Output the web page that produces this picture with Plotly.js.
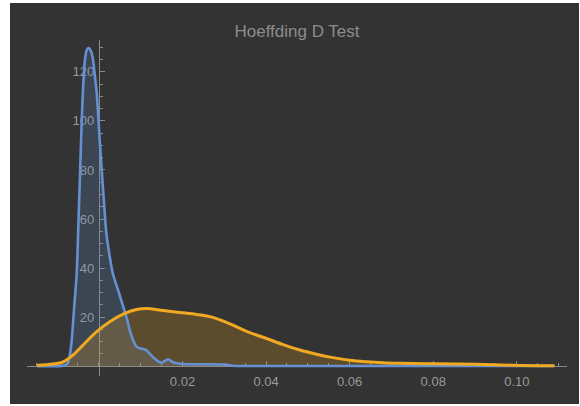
<!DOCTYPE html>
<html>
<head>
<meta charset="utf-8">
<script src="https://cdn.plot.ly/plotly-3.0.1.min.js"></script>
<style>
  html, body { margin: 0; padding: 0; background: #ffffff; }
  #chart { position: absolute; left: 10px; top: 3px; width: 569px; height: 401px; }
</style>
</head>
<body>
<div id="chart"></div>
<script>
// ---- data ----
const blueX = [-0.0148, -0.0110, -0.0090, -0.0080, -0.0075, -0.0070, -0.0065, -0.0060, -0.0053,
  -0.0049, -0.0045, -0.0040, -0.0034, -0.0029, -0.0024, -0.0019, -0.0014, -0.0010, -0.0005,
  0.0002, 0.0010, 0.0018, 0.0026, 0.0033, 0.0040, 0.0046, 0.0056, 0.0066, 0.0075, 0.0082,
  0.0090, 0.0098, 0.0106, 0.0114, 0.0121, 0.0129, 0.0140, 0.0150, 0.0158, 0.0166, 0.0175,
  0.0186, 0.0210, 0.0250, 0.0300, 0.0320, 0.0400, 0.0600, 0.0800, 0.1000, 0.1090];
const blueY = [0, 0, 0.1, 0.4, 1.2, 4, 10.6, 22, 38,
  58, 79, 105, 124, 129, 129.7, 128.5, 125, 119, 111,
  92, 72, 54, 44.6, 38, 34, 31, 25.5, 20, 14, 10.6,
  8, 7.3, 7.0, 6.5, 5.2, 3.8, 2.2, 1.4, 2.2, 2.8, 1.8,
  1.2, 0.8, 0.8, 0.7, 0.2, 0.1, 0.1, 0.1, 0.1, 0.1];

const orangeX = [-0.0148, -0.0110, -0.0085, -0.0062, -0.0038, -0.0006, 0.0026, 0.0058, 0.0090,
  0.0114, 0.0154, 0.0194, 0.0234, 0.0266, 0.0290, 0.0321, 0.0361, 0.0401, 0.0441, 0.0481,
  0.0521, 0.0560, 0.0600, 0.0640, 0.0680, 0.0720, 0.0800, 0.0900, 0.0990, 0.1090];
const orangeY = [0.4, 0.9, 1.8, 4.5, 8.6, 14, 18.1, 21.2, 23.1,
  23.5, 22.7, 21.9, 21.1, 20.2, 18.9, 16.7, 13.7, 11.3, 8.8, 6.6,
  4.9, 3.5, 2.4, 1.8, 1.4, 1.2, 1.0, 0.8, 0.4, 0.2];

const xTickVals = [0.02, 0.04, 0.06, 0.08, 0.10];
const xTickText = ['0.02', '0.04', '0.06', '0.08', '0.10'];
const yTickVals = [20, 40, 60, 80, 100, 120];
const yTickText = ['20', '40', '60', '80', '100', '120'];
const chartTitle = 'Hoeffding D Test';

// ---- layout ----
const xRange = [-0.0172, 0.112];
const yRange = [-4, 133];

const blueLine = {color: '#6690d2', width: 2.6, shape: 'spline', smoothing: 0.6};
const orangeLine = {color: '#f2a922', width: 3, shape: 'spline', smoothing: 1};

const traces = [
  // fills first
  {
    x: blueX, y: blueY, type: 'scatter', mode: 'lines',
    line: Object.assign({}, blueLine, {width: 0}),
    fill: 'tozeroy', fillcolor: 'rgba(102,144,210,0.2)',
    hoverinfo: 'skip'
  },
  {
    x: orangeX, y: orangeY, type: 'scatter', mode: 'lines',
    line: Object.assign({}, orangeLine, {width: 0}),
    fill: 'tozeroy', fillcolor: 'rgba(242,169,34,0.22)',
    hoverinfo: 'skip'
  },
  // then the curves on top
  {
    x: blueX, y: blueY, type: 'scatter', mode: 'lines',
    line: blueLine, hoverinfo: 'skip'
  },
  {
    x: orangeX, y: orangeY, type: 'scatter', mode: 'lines',
    line: orangeLine, hoverinfo: 'skip'
  }
];

const axisColor = '#8a8a8a';
const labelFont = {family: 'Liberation Sans, Arial, sans-serif', size: 13, color: '#9a9a9a'};

const layout = {
  width: 569, height: 401,
  margin: {l: 17, r: 12, t: 37, b: 28, pad: 0},
  paper_bgcolor: '#333333',
  plot_bgcolor: '#333333',
  showlegend: false,
  title: {
    text: chartTitle,
    font: {family: 'Liberation Sans, Arial, sans-serif', size: 17, color: '#8c8c8c'},
    xref: 'paper', x: 0.5, xanchor: 'center',
    yref: 'container', y: 1 - 28 / 401, yanchor: 'middle'
  },
  xaxis: {
    range: xRange,
    anchor: 'free',
    position: (0 - yRange[0]) / (yRange[1] - yRange[0]),
    showgrid: false, zeroline: false,
    showline: true, linecolor: axisColor, linewidth: 1,
    tickmode: 'array', tickvals: xTickVals, ticktext: xTickText,
    ticks: 'inside', ticklen: 5, tickcolor: axisColor, tickwidth: 1,
    minor: {tickmode: 'linear', tick0: 0, dtick: 0.005, ticks: 'inside', ticklen: 3, tickcolor: axisColor},
    tickfont: labelFont,
    ticklabelstandoff: 3,
    layer: 'below traces',
    fixedrange: true
  },
  yaxis: {
    range: yRange,
    anchor: 'free',
    position: (0 - xRange[0]) / (xRange[1] - xRange[0]),
    showgrid: false, zeroline: false,
    showline: true, linecolor: axisColor, linewidth: 1,
    tickmode: 'array', tickvals: yTickVals, ticktext: yTickText,
    ticks: 'inside', ticklen: 5, tickcolor: axisColor, tickwidth: 1,
    minor: {tickmode: 'linear', tick0: 0, dtick: 5, ticks: 'inside', ticklen: 3, tickcolor: axisColor},
    tickfont: labelFont,
    ticklabelstandoff: 2,
    layer: 'below traces',
    fixedrange: true
  }
};

Plotly.newPlot('chart', traces, layout, {displayModeBar: false, staticPlot: true});
</script>
</body>
</html>
